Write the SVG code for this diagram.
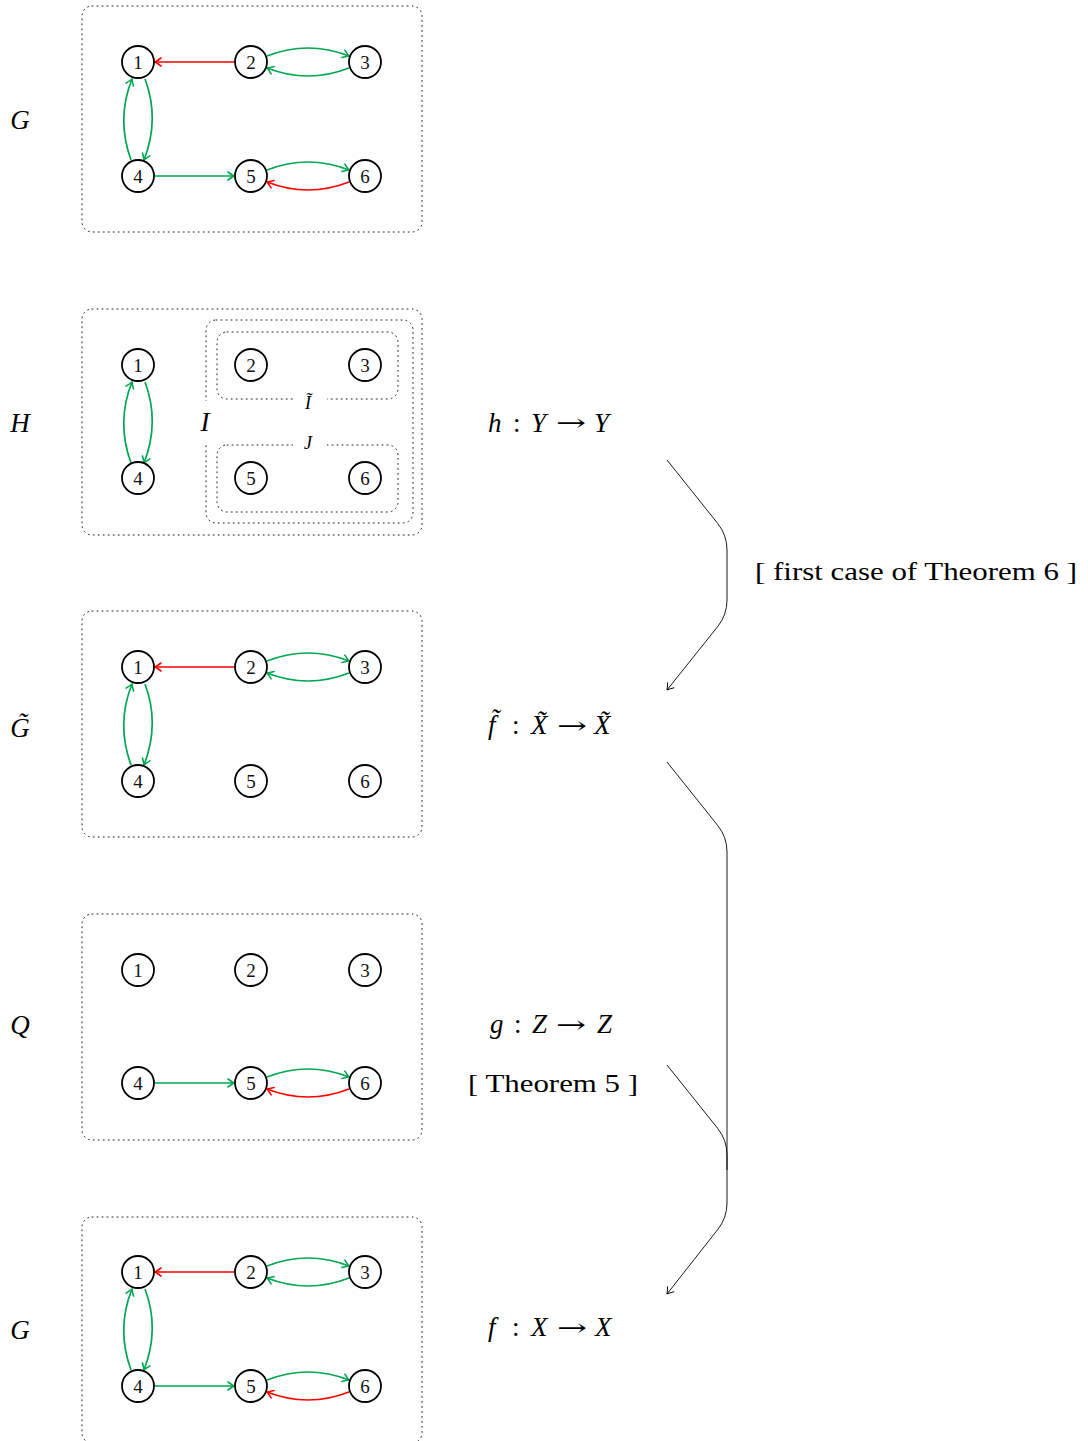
<svg xmlns="http://www.w3.org/2000/svg" width="1088" height="1441" viewBox="0 0 1088 1441">
<style>
.bg{fill:#fff}
.box{fill:none;stroke:#222;stroke-width:1;stroke-dasharray:1 4;stroke-linecap:round}
.nd circle{fill:#fff;stroke:#000;stroke-width:1.8}
.nd text{font-family:"Liberation Serif","DejaVu Serif",serif;font-size:19px;text-anchor:middle;fill:#111}
.lab{font-family:"Liberation Serif","DejaVu Serif",serif;font-style:italic;font-size:27px;fill:#000}
.sub{font-family:"Liberation Serif","DejaVu Serif",serif;font-style:italic;font-size:18px;fill:#000;text-anchor:middle}
.eq{font-family:"Liberation Serif","DejaVu Serif",serif;font-size:27px;fill:#000}
.eq .i{font-style:italic}
.arw{font-family:"DejaVu Serif",serif;font-size:24px;fill:#000}
.cen{font-family:"Liberation Serif","DejaVu Serif",serif;font-size:26px;fill:#000;text-anchor:middle}
.txt{font-family:"Liberation Serif","DejaVu Serif",serif;font-size:26px;fill:#000}
.g{fill:none;stroke:#00a651;stroke-width:1.7;marker-end:url(#ag)}
.r{fill:none;stroke:#ff0000;stroke-width:1.7;marker-end:url(#ar)}
.k{fill:none;stroke:#000;stroke-width:0.9}
</style>
<defs>
<marker id="ag" markerUnits="userSpaceOnUse" viewBox="-8 -6 10 12" refX="0" refY="0" markerWidth="10" markerHeight="12" orient="auto" overflow="visible">
<path d="M-6,-4 Q-2,-1 0,0 Q-2,1 -6,4" fill="none" stroke="#00a651" stroke-width="1.6" stroke-linecap="round"/>
</marker>
<marker id="ar" markerUnits="userSpaceOnUse" viewBox="-8 -6 10 12" refX="0" refY="0" markerWidth="10" markerHeight="12" orient="auto" overflow="visible">
<path d="M-6,-4 Q-2,-1 0,0 Q-2,1 -6,4" fill="none" stroke="#ff0000" stroke-width="1.6" stroke-linecap="round"/>
</marker>
<marker id="ak" markerUnits="userSpaceOnUse" viewBox="-8 -6 10 12" refX="0" refY="0" markerWidth="10" markerHeight="12" orient="auto" overflow="visible">
<path d="M-6,-4 Q-2,-1 0,0 Q-2,1 -6,4" fill="none" stroke="#000" stroke-width="0.9" stroke-linecap="round"/>
</marker>
</defs>
<rect width="1088" height="1441" fill="#fff"/>

<!-- boxes -->
<g id="boxes">
<rect class="box" x="82" y="6" width="340" height="226" rx="10"/>
<rect class="box" x="82" y="309" width="340" height="226" rx="10"/>
<rect class="box" x="206" y="320" width="207" height="203" rx="10"/>
<rect class="box" x="217" y="332" width="181" height="67" rx="10"/>
<rect class="box" x="217" y="445" width="181" height="67" rx="10"/>
<rect class="box" x="82" y="611" width="340" height="226" rx="10"/>
<rect class="box" x="82" y="914" width="340" height="226" rx="10"/>
<rect class="box" x="82" y="1217" width="340" height="226" rx="10"/>
<rect class="bg" x="293" y="390" width="34" height="22"/>
<rect class="bg" x="293" y="434" width="34" height="22"/>
<rect class="bg" x="193" y="401" width="23" height="43"/>
</g>

<!-- set labels -->
<g id="setlabels">
<text class="lab" x="20" y="129" text-anchor="middle">G</text>
<text class="lab" x="20" y="432" text-anchor="middle">H</text>
<text class="lab" x="20" y="737" text-anchor="middle">G̃</text>
<text class="lab" x="20" y="1034" text-anchor="middle">Q</text>
<text class="lab" x="20" y="1339" text-anchor="middle">G</text>
<text class="lab" x="205" y="431" text-anchor="middle">I</text>
<text class="sub" x="308" y="409">Ĩ</text>
<text class="sub" x="308" y="449">J</text>
</g>

<!-- edges -->
<g id="edges">
<!-- G top -->
<path class="r" d="M234,62 L155,62"/>
<path class="g" d="M267,56 Q308,40 349,56"/>
<path class="g" d="M349,68 Q308,84 267,68"/>
<path class="g" d="M145,79 Q160,119 144,160"/>
<path class="g" d="M131,160 Q116,119 132,79"/>
<path class="g" d="M155,176 L234,176"/>
<path class="g" d="M267,170 Q308,154 349,170"/>
<path class="r" d="M349,182 Q308,198 267,182"/>
<!-- H -->
<path class="g" d="M145,382 Q160,422 144,463"/>
<path class="g" d="M131,463 Q116,422 132,382"/>
<!-- G tilde -->
<path class="r" d="M234,667 L155,667"/>
<path class="g" d="M267,661 Q308,645 349,661"/>
<path class="g" d="M349,673 Q308,689 267,673"/>
<path class="g" d="M145,684 Q160,724 144,765"/>
<path class="g" d="M131,765 Q116,724 132,684"/>
<!-- Q -->
<path class="g" d="M155,1083 L234,1083"/>
<path class="g" d="M267,1077 Q308,1061 349,1077"/>
<path class="r" d="M349,1089 Q308,1105 267,1089"/>
<!-- G bottom -->
<path class="r" d="M234,1272 L155,1272"/>
<path class="g" d="M267,1266 Q308,1250 349,1266"/>
<path class="g" d="M349,1278 Q308,1294 267,1278"/>
<path class="g" d="M145,1289 Q160,1329 144,1370"/>
<path class="g" d="M131,1370 Q116,1329 132,1289"/>
<path class="g" d="M155,1386 L234,1386"/>
<path class="g" d="M267,1380 Q308,1364 349,1380"/>
<path class="r" d="M349,1392 Q308,1408 267,1392"/>
</g>

<!-- nodes -->
<g id="G1-1" class="nd"><circle cx="138" cy="62" r="16"/><text x="138" y="68.5">1</text></g>
<g id="G1-2" class="nd"><circle cx="251" cy="62" r="16"/><text x="251" y="68.5">2</text></g>
<g id="G1-3" class="nd"><circle cx="365" cy="62" r="16"/><text x="365" y="68.5">3</text></g>
<g id="G1-4" class="nd"><circle cx="138" cy="176" r="16"/><text x="138" y="182.5">4</text></g>
<g id="G1-5" class="nd"><circle cx="251" cy="176" r="16"/><text x="251" y="182.5">5</text></g>
<g id="G1-6" class="nd"><circle cx="365" cy="176" r="16"/><text x="365" y="182.5">6</text></g>

<g id="H-1" class="nd"><circle cx="138" cy="365" r="16"/><text x="138" y="371.5">1</text></g>
<g id="H-2" class="nd"><circle cx="251" cy="365" r="16"/><text x="251" y="371.5">2</text></g>
<g id="H-3" class="nd"><circle cx="365" cy="365" r="16"/><text x="365" y="371.5">3</text></g>
<g id="H-4" class="nd"><circle cx="138" cy="478" r="16"/><text x="138" y="484.5">4</text></g>
<g id="H-5" class="nd"><circle cx="251" cy="478" r="16"/><text x="251" y="484.5">5</text></g>
<g id="H-6" class="nd"><circle cx="365" cy="478" r="16"/><text x="365" y="484.5">6</text></g>

<g id="Gt-1" class="nd"><circle cx="138" cy="667" r="16"/><text x="138" y="673.5">1</text></g>
<g id="Gt-2" class="nd"><circle cx="251" cy="667" r="16"/><text x="251" y="673.5">2</text></g>
<g id="Gt-3" class="nd"><circle cx="365" cy="667" r="16"/><text x="365" y="673.5">3</text></g>
<g id="Gt-4" class="nd"><circle cx="138" cy="781" r="16"/><text x="138" y="787.5">4</text></g>
<g id="Gt-5" class="nd"><circle cx="251" cy="781" r="16"/><text x="251" y="787.5">5</text></g>
<g id="Gt-6" class="nd"><circle cx="365" cy="781" r="16"/><text x="365" y="787.5">6</text></g>

<g id="Q-1" class="nd"><circle cx="138" cy="970" r="16"/><text x="138" y="976.5">1</text></g>
<g id="Q-2" class="nd"><circle cx="251" cy="970" r="16"/><text x="251" y="976.5">2</text></g>
<g id="Q-3" class="nd"><circle cx="365" cy="970" r="16"/><text x="365" y="976.5">3</text></g>
<g id="Q-4" class="nd"><circle cx="138" cy="1083" r="16"/><text x="138" y="1089.5">4</text></g>
<g id="Q-5" class="nd"><circle cx="251" cy="1083" r="16"/><text x="251" y="1089.5">5</text></g>
<g id="Q-6" class="nd"><circle cx="365" cy="1083" r="16"/><text x="365" y="1089.5">6</text></g>

<g id="G2-1" class="nd"><circle cx="138" cy="1272" r="16"/><text x="138" y="1278.5">1</text></g>
<g id="G2-2" class="nd"><circle cx="251" cy="1272" r="16"/><text x="251" y="1278.5">2</text></g>
<g id="G2-3" class="nd"><circle cx="365" cy="1272" r="16"/><text x="365" y="1278.5">3</text></g>
<g id="G2-4" class="nd"><circle cx="138" cy="1386" r="16"/><text x="138" y="1392.5">4</text></g>
<g id="G2-5" class="nd"><circle cx="251" cy="1386" r="16"/><text x="251" y="1392.5">5</text></g>
<g id="G2-6" class="nd"><circle cx="365" cy="1386" r="16"/><text x="365" y="1392.5">6</text></g>

<!-- map labels -->
<g id="map-h">
<text class="eq" y="431.5"><tspan class="i" x="488">h</tspan><tspan x="513">:</tspan><tspan class="i" x="531">Y</tspan><tspan class="i" x="594">Y</tspan></text>
<text class="arw" x="556" y="431" textLength="30" lengthAdjust="spacingAndGlyphs">→</text>
</g>
<g id="map-ft">
<text class="eq" y="734"><tspan class="i" x="488">f̃</tspan><tspan x="512">:</tspan><tspan class="i" x="531">X̃</tspan><tspan class="i" x="594">X̃</tspan></text>
<text class="arw" x="557" y="733.5" textLength="30" lengthAdjust="spacingAndGlyphs">→</text>
</g>
<g id="map-g">
<text class="eq" y="1033"><tspan class="i" x="490">g</tspan><tspan x="514">:</tspan><tspan class="i" x="532">Z</tspan><tspan class="i" x="597">Z</tspan></text>
<text class="arw" x="556" y="1033" textLength="30" lengthAdjust="spacingAndGlyphs">→</text>
</g>
<g id="thm5"><text class="cen" x="553" y="1092" textLength="170" lengthAdjust="spacingAndGlyphs">[ Theorem 5 ]</text></g>
<g id="map-f">
<text class="eq" y="1336"><tspan class="i" x="488">f</tspan><tspan x="512">:</tspan><tspan class="i" x="531">X</tspan><tspan class="i" x="595">X</tspan></text>
<text class="arw" x="557" y="1335.5" textLength="30" lengthAdjust="spacingAndGlyphs">→</text>
</g>
<g id="thm6"><text class="txt" x="755" y="580" textLength="322" lengthAdjust="spacingAndGlyphs">[ first case of Theorem 6 ]</text></g>

<!-- connectors -->
<g id="connectors">
<path class="k" d="M667,460 L717.6,523.3 Q727,535 727,550 L727,600 Q727,615 717.6,626.7 L667,690" marker-end="url(#ak)"/>
<path class="k" d="M667,762 L717.6,825.3 Q727,837 727,852 L727,1203 Q727,1218 717.6,1229.7 L667,1294" marker-end="url(#ak)"/>
<path class="k" d="M667,1065 L717.6,1128.3 Q727,1140 727,1155 L727,1170"/>
</g>
</svg>
